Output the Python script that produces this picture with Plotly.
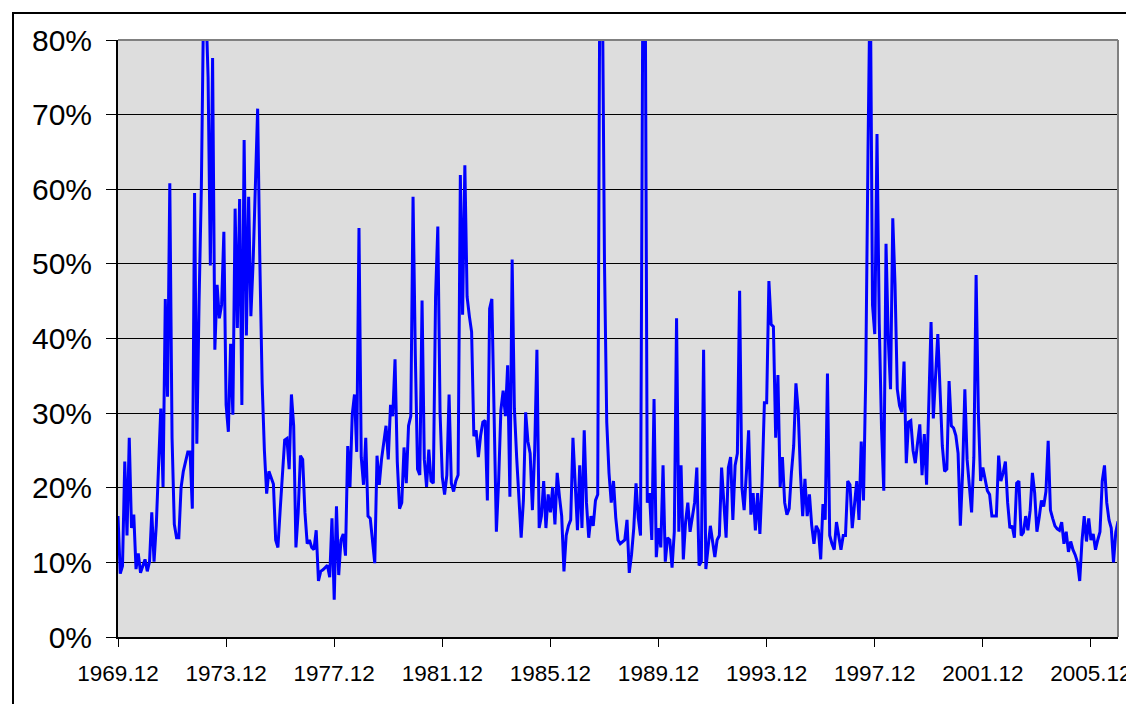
import plotly.graph_objects as go

# Monthly values (%), 1969.12 onward
vals_1969_1973 = [16.2, 8.5, 9.5, 23.5, 13.6, 26.7, 14.6, 16.4, 9.1, 11.2, 8.6, 9.5, 10.4, 8.8, 10.1, 16.7,
                  10.1, 15.0, 24.0, 30.6, 20.1, 45.3, 32.2, 60.8, 26.7, 15.1, 13.3, 13.3, 20.0, 22.2, 23.5, 24.8,
                  24.8, 17.2, 59.5, 25.9, 45.0, 60.0, 85.0, 85.0, 75.0, 49.8, 77.6, 38.5, 47.2, 42.7, 44.5, 54.3]
vals_1973_1977 = [31.1, 27.5, 39.3, 29.8, 57.4, 41.4, 58.7, 31.1, 66.6, 40.4, 59.0, 43.0, 50.3, 62.0, 70.8, 50.0,
                  34.0, 25.0, 19.2, 22.2, 21.2, 20.5, 13.0, 12.0, 17.0, 22.0, 26.4, 26.6, 22.5, 32.5, 28.3, 12.0,
                  16.7, 24.3, 23.8, 16.7, 12.5, 13.0, 12.0, 11.7, 14.3, 7.5, 8.8, 9.0, 9.3, 9.6, 8.0, 15.9]
vals_1977_1981 = [5.0, 17.5, 8.3, 13.0, 13.8, 10.9, 25.6, 20.1, 29.8, 32.5, 24.8, 54.8, 24.1, 20.4, 26.7, 16.2,
                  15.9, 12.5, 9.9, 24.3, 20.4, 23.8, 26.0, 28.3, 23.8, 31.1, 29.6, 37.2, 23.5, 17.2, 18.0, 25.4,
                  20.6, 28.3, 29.6, 59.0, 38.0, 22.5, 21.7, 45.1, 23.8, 20.1, 25.1, 20.9, 20.6, 45.6, 55.0, 30.0]
vals_1981_1985 = [21.4, 19.1, 21.7, 32.5, 20.6, 19.5, 20.9, 21.7, 61.9, 43.2, 63.2, 45.6, 43.0, 40.9, 26.9, 27.7,
                  24.1, 27.0, 28.8, 29.0, 18.3, 44.0, 45.3, 28.0, 14.1, 20.9, 30.4, 33.0, 29.6, 36.4, 18.8, 50.6,
                  30.6, 24.1, 18.8, 13.3, 18.3, 30.1, 26.2, 24.6, 17.0, 25.0, 38.5, 14.6, 16.2, 20.9, 14.6, 19.1]
vals_1985_1989 = [16.7, 20.1, 15.1, 22.0, 18.8, 16.2, 8.8, 13.6, 14.9, 15.7, 26.7, 20.0, 14.3, 23.0, 14.6, 27.7,
                  18.0, 13.3, 16.2, 14.9, 18.3, 19.1, 95.0, 90.0, 50.0, 28.8, 22.0, 18.0, 20.9, 16.0, 13.0, 12.5,
                  12.8, 13.0, 15.7, 8.6, 11.0, 14.6, 20.6, 16.0, 13.6, 85.0, 95.0, 18.0, 19.3, 13.0, 31.9, 10.7]
vals_1989_1993 = [14.6, 12.0, 23.0, 10.1, 13.3, 13.0, 9.3, 14.1, 42.7, 14.1, 23.0, 10.4, 15.4, 18.0, 14.1, 16.2,
                  18.0, 22.7, 9.6, 10.1, 38.5, 9.1, 12.0, 14.9, 12.8, 10.7, 13.0, 13.6, 22.7, 18.3, 13.3, 22.7,
                  24.1, 15.7, 23.0, 24.6, 46.4, 20.1, 17.0, 22.0, 27.7, 16.4, 19.3, 14.3, 19.3, 13.8, 20.9, 31.4]
vals_1993_1997 = [31.4, 47.7, 41.9, 41.6, 26.7, 35.1, 20.1, 24.1, 18.0, 16.4, 17.2, 22.0, 25.6, 34.0, 30.4, 22.0,
                  16.2, 21.2, 16.2, 19.1, 15.0, 12.5, 14.9, 14.3, 10.4, 17.8, 15.7, 35.3, 13.6, 12.5, 11.7, 15.4,
                  13.5, 11.7, 13.6, 13.6, 20.9, 20.4, 14.6, 18.0, 20.9, 15.7, 26.2, 18.3, 35.0, 65.0, 90.0, 44.5]
vals_1997_2001 = [40.6, 67.4, 42.0, 28.0, 19.6, 52.7, 40.0, 33.2, 56.1, 47.2, 33.2, 31.0, 30.1, 36.9, 23.3, 28.8,
                  29.0, 25.0, 23.3, 26.0, 28.5, 21.7, 27.2, 20.4, 30.0, 42.2, 29.3, 35.0, 40.6, 33.0, 25.6, 22.2,
                  22.5, 34.3, 28.3, 28.0, 27.0, 24.6, 14.9, 22.0, 33.2, 23.8, 20.0, 16.7, 24.1, 48.5, 30.0, 20.9]
vals_2001_2006 = [22.7, 21.0, 19.6, 19.1, 16.2, 16.2, 16.2, 24.3, 20.9, 22.0, 23.5, 18.0, 14.6, 14.9, 13.3, 20.6,
                  20.9, 13.6, 14.0, 16.2, 14.3, 17.0, 22.0, 19.3, 14.1, 16.0, 18.3, 17.5, 19.5, 26.3, 17.0, 15.9,
                  14.9, 14.5, 14.3, 15.4, 12.5, 14.1, 11.4, 12.8, 11.7, 11.0, 10.0, 7.5, 12.8, 16.2, 12.8, 15.9,
                  13.0, 13.8, 11.7, 13.0, 14.1, 20.9, 23.0, 18.0, 15.7, 14.6, 10.0, 14.0, 15.5]

values = (vals_1969_1973 + vals_1973_1977 + vals_1977_1981 + vals_1981_1985 + vals_1985_1989
          + vals_1989_1993 + vals_1993_1997 + vals_1997_2001 + vals_2001_2006)

start_year, start_month = 1969, 12
months = []
for i in range(len(values)):
    m = start_month - 1 + i
    months.append(f"{start_year + m // 12}.{m % 12 + 1:02d}")

tick_labels = months[::48]
y_ticks = [0, 10, 20, 30, 40, 50, 60, 70, 80]

fig = go.Figure()
fig.add_trace(go.Scatter(
    x=months, y=values, mode="lines",
    line=dict(color="#0000FF", width=3),
    hoverinfo="x+y", showlegend=False,
))

# plot area: page x 118..1118, y 40..637 (page has an 8px body margin)
L, T, PW, PH = 110, 32, 1000, 597
fig.update_layout(
    width=1134, height=704,
    margin=dict(l=L, r=1134 - L - PW, t=T, b=704 - T - PH),
    paper_bgcolor="white",
    plot_bgcolor="#DDDDDD",
    font=dict(family="Liberation Sans, Arial, sans-serif", color="black"),
    xaxis=dict(
        type="category",
        range=[0, len(values) - 1],
        tickmode="array", tickvals=tick_labels, ticktext=tick_labels,
        ticks="outside", ticklen=8, tickcolor="black", tickwidth=1,
        tickfont=dict(size=22.5),
        showgrid=False, zeroline=False,
        showline=True, linecolor="black", linewidth=2,
        ticklabelstandoff=7,
        automargin=False,
    ),
    yaxis=dict(
        range=[0, 80],
        tickmode="array", tickvals=y_ticks, ticktext=[f"{v}%" for v in y_ticks],
        ticks="outside", ticklen=10, tickcolor="black", tickwidth=1,
        tickfont=dict(size=30),
        showgrid=True, gridcolor="black", gridwidth=1,
        zeroline=False,
        showline=True, linecolor="black", linewidth=2,
        ticklabelstandoff=8,
        automargin=False,
    ),
    shapes=[
        dict(type="line", xref="paper", yref="paper", x0=0, x1=1, y0=1, y1=1,
             line=dict(color="#808080", width=2), layer="above"),
        dict(type="line", xref="paper", yref="paper", x0=1, x1=1, y0=0, y1=1,
             line=dict(color="#808080", width=2), layer="above"),
        dict(type="rect", xref="paper", yref="paper",
             x0=(5 - L) / PW, x1=1.1, y0=-0.2, y1=1 + (T - 5) / PH,
             line=dict(color="black", width=2), layer="below"),
    ],
)

fig.write_html("out.html")
